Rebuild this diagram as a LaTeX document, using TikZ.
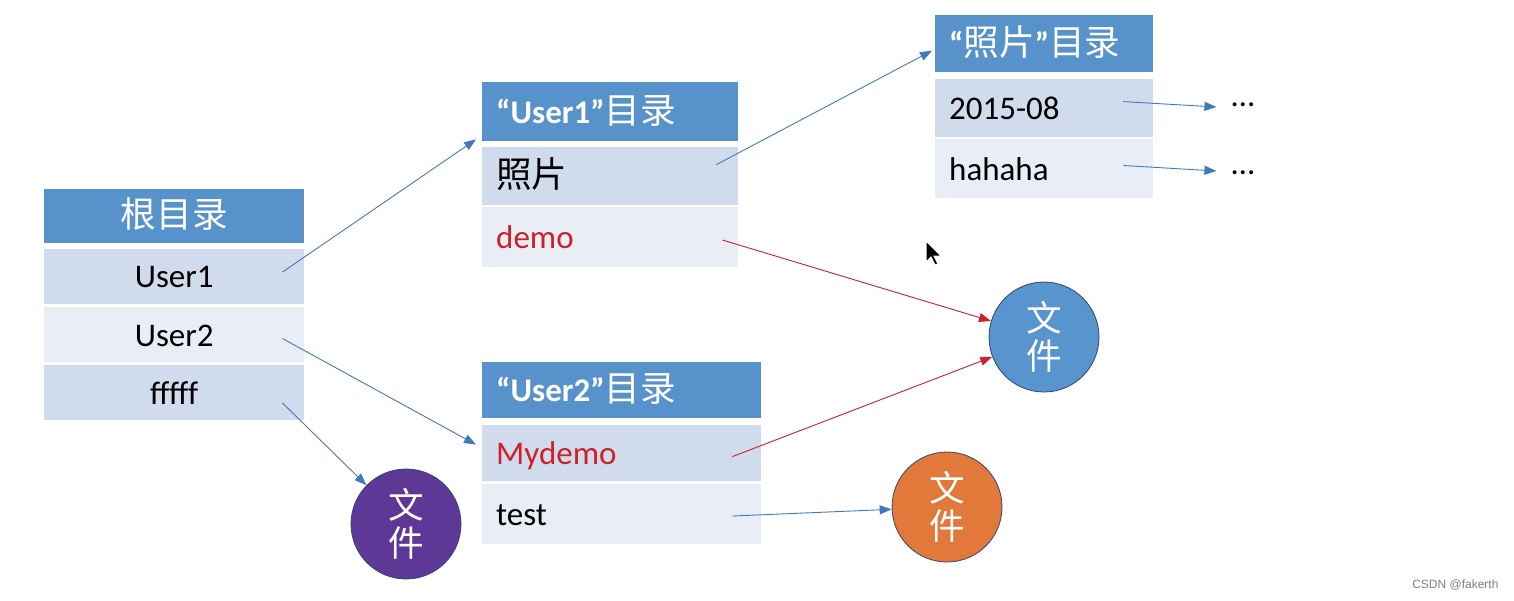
\documentclass[tikz,border=0pt]{standalone}
\usepackage{fontspec}
\setmainfont{Carlito}
\newfontfamily\cjk[Scale=1.08]{Noto Sans CJK SC}
\newfontfamily\wmfont{Liberation Sans}
\usepackage{tikz}
\usetikzlibrary{arrows.meta, positioning}
\definecolor{headblue}{RGB}{88,146,203}
\definecolor{rowdark}{RGB}{208,219,236}
\definecolor{rowlight}{RGB}{232,237,246}
\definecolor{linkblue}{RGB}{68,120,190}
\definecolor{linkred}{RGB}{206,32,40}
\definecolor{filepurple}{RGB}{94,56,150}
\definecolor{fileblue}{RGB}{88,148,206}
\definecolor{fileorange}{RGB}{226,120,58}
\definecolor{fileline}{RGB}{50,70,110}
\newcommand{\zh}[1]{{\mdseries\cjk #1}}
\tikzset{
  >={Triangle[length=12pt,width=9pt]},
  cell/.style={inner xsep=14pt,inner ysep=0pt,text height=26pt,text depth=3pt,
    font=\fontsize{33}{40}\selectfont},
  tblhead/.style={cell,fill=headblue,text=white,font=\bfseries\fontsize{33}{40}\selectfont},
  rowdk/.style={cell,fill=rowdark},
  rowlt/.style={cell,fill=rowlight},
  filenode/.style={circle,draw=fileline,line width=0.8pt,minimum size=110pt,inner sep=0pt,
    text=white,align=center,font=\fontsize{33}{38}\selectfont\cjk},
  link/.style={draw=linkblue,->,line width=0.9pt},
  redlink/.style={draw=linkred,->,line width=0.9pt},
  moredots/.style={inner sep=0pt,font=\fontsize{33}{40}\selectfont}
}

\begin{document}
\begin{tikzpicture}[x=1pt,y=1pt]
  \fill[white] (0,0) rectangle (1514,-600);
  \useasboundingbox (0,0) rectangle (1514,-600);

  % root directory
  \node[tblhead,text width=232pt,align=center,minimum height=54pt,anchor=north west] (root) at (44,-189) {\zh{根目录}};
  \node[rowdk,text width=232pt,align=center,minimum height=55pt,below=5pt of root] (ru1) {User1};
  \node[rowlt,text width=232pt,align=center,minimum height=55pt,below=3pt of ru1] (ru2) {User2};
  \node[rowdk,text width=232pt,align=center,minimum height=55pt,below=3pt of ru2] (rff) {fffff};

  % User1 directory
  \node[tblhead,text width=228pt,align=left,minimum height=59pt,anchor=north west] (hu1) at (482,-82) {“User1”\zh{目录}};
  \node[rowdk,text width=228pt,align=left,minimum height=58pt,below=5pt of hu1] (pic) {\zh{照片}};
  \node[rowlt,text width=228pt,align=left,minimum height=60pt,below=2pt of pic,text=linkred] (demo) {demo};

  % photo directory
  \node[tblhead,text width=190pt,align=left,minimum height=57pt,anchor=north west] (hpic) at (935,-15) {“\zh{照片}”\zh{目录}};
  \node[rowdk,text width=190pt,align=left,minimum height=58pt,below=6pt of hpic] (aug) {2015-08};
  \node[rowlt,text width=190pt,align=left,minimum height=59pt,below=2pt of aug] (haha) {hahaha};
  \node[moredots] (more1) at (1243,-105) {…};
  \node[moredots] (more2) at (1243,-173) {…};

  % User2 directory
  \node[tblhead,text width=251pt,align=left,minimum height=56pt,anchor=north west] (hu2) at (482,-362) {“User2”\zh{目录}};
  \node[rowdk,text width=251pt,align=left,minimum height=56pt,below=6pt of hu2,text=linkred] (md) {Mydemo};
  \node[rowlt,text width=251pt,align=left,minimum height=60pt,below=3pt of md] (tst) {test};

  % files
  \node[filenode,fill=filepurple] (fpurple) at (406,-524) {文\\件};
  \node[filenode,fill=fileblue] (fblue) at (1044,-337) {文\\件};
  \node[filenode,fill=fileorange] (forange) at (947,-507) {文\\件};

  % links
  \draw[link] ([xshift=-22pt,yshift=4pt]ru1.east) -- ([xshift=-6pt,yshift=2pt]hu1.south west);
  \draw[link] ([xshift=-22pt,yshift=-4pt]ru2.east) -- ([xshift=-6pt,yshift=8pt]md.west);
  \draw[link] ([xshift=-22pt,yshift=-10pt]rff.east) -- (fpurple);
  \draw[link] ([xshift=-22pt,yshift=11pt]pic.east) -- ([xshift=-3pt,yshift=-7pt]hpic.west);
  \draw[redlink] ([xshift=-16pt,yshift=-3pt]demo.east) -- (fblue);
  \draw[redlink] ([xshift=-29pt,yshift=-4pt]md.east) -- (fblue);
  \draw[link] ([xshift=-29pt,yshift=-2pt]tst.east) -- (forange);
  \draw[link] ([xshift=-30pt,yshift=6pt]aug.east) -- ([xshift=-15pt,yshift=-2pt]more1.west);
  \draw[link] ([xshift=-30pt,yshift=3pt]haha.east) -- ([xshift=-15pt,yshift=2pt]more2.west);

  % cursor
  \filldraw[fill=black,draw=white,line width=1pt] (926,-241) -- (926,-262) -- (931,-257) -- (935,-265)
    -- (938,-264) -- (934,-256) -- (941,-256) -- cycle;

  \node[font=\wmfont\fontsize{12}{14}\selectfont,text=gray,anchor=east] (mark) at (1502,-585) {CSDN @fakerth};
\end{tikzpicture}
\end{document}
